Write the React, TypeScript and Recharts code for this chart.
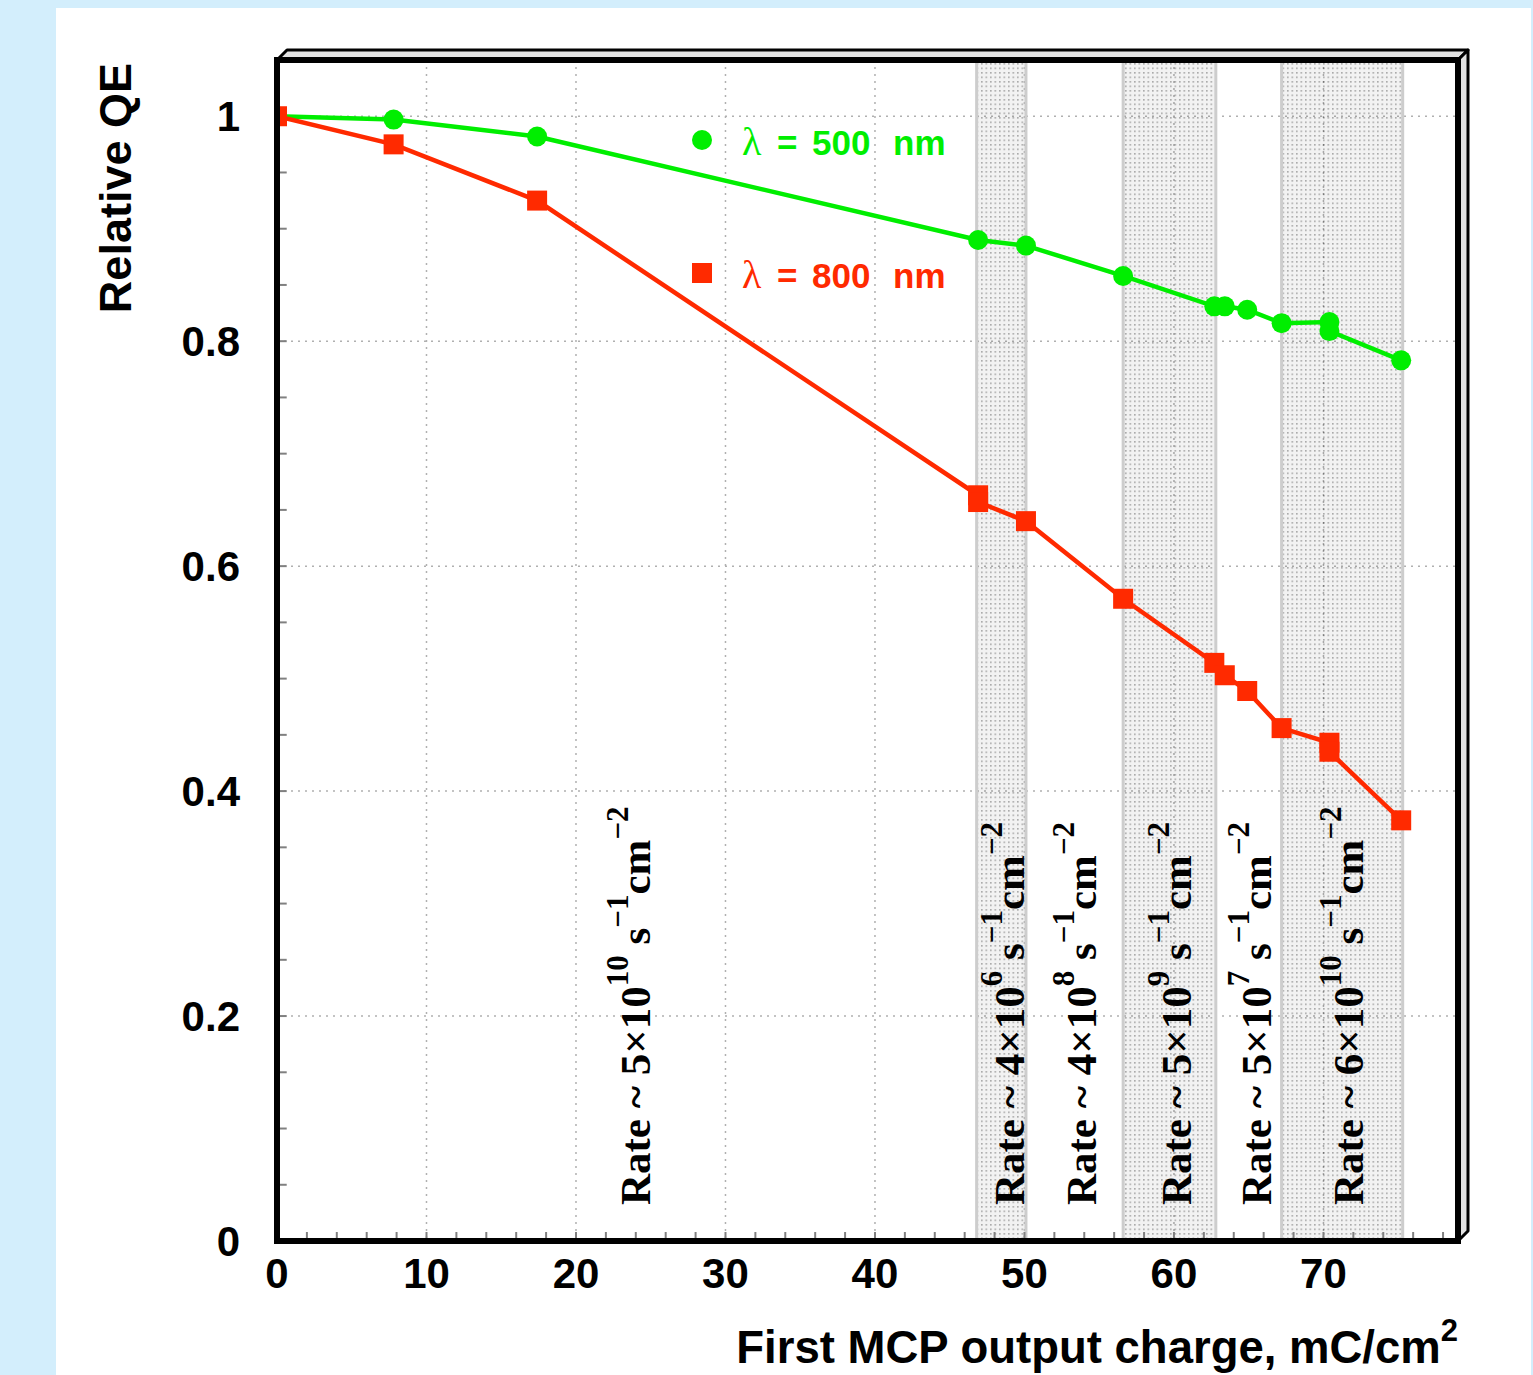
import React from 'react';
import {
  ComposedChart,
  Line,
  XAxis,
  YAxis,
  CartesianGrid,
  ReferenceArea,
  ReferenceLine,
  Legend,
} from 'recharts';

// ---- layout ----
const CHART_W = 1533;
const CHART_H = 1375;
const FRAME = { left: 277, top: 60, right: 1458, bottom: 1241, depth: 10 };

const GREEN = '#00ee00';
const RED = '#ff2a00';
const SANS = '"Liberation Sans", Arial, Helvetica, sans-serif';
const SERIF = '"Liberation Serif", "Times New Roman", serif';

// ---- axes ----
const xDomain = [0, 79];
const yDomain = [0, 1.05];
const xTicks = [0, 10, 20, 30, 40, 50, 60, 70];
const xMinorTicks = [
  2, 4, 6, 8, 10, 12, 14, 16, 18, 20, 22, 24, 26, 28, 30, 32, 34, 36, 38,
  40, 42, 44, 46, 48, 50, 52, 54, 56, 58, 60, 62, 64, 66, 68, 70, 72, 74, 76, 78,
];
const yTicks = [0, 0.2, 0.4, 0.6, 0.8, 1];
const yMinorTicks = [
  0.05, 0.1, 0.15, 0.2, 0.25, 0.3, 0.35, 0.4, 0.45, 0.5, 0.55, 0.6, 0.65,
  0.7, 0.75, 0.8, 0.85, 0.9, 0.95, 1, 1.05,
];
// inward tick length, in axis units
const X_TICK_LEN = 0.008; // along y
const Y_TICK_LEN = 0.65; // along x

// ---- measurements: relative QE vs. first-MCP output charge (mC/cm^2) ----
const qe500nm = [
  { charge: 0, qe: 1.0 },
  { charge: 7.8, qe: 0.997 },
  { charge: 17.4, qe: 0.982 },
  { charge: 46.9, qe: 0.89 },
  { charge: 50.1, qe: 0.885 },
  { charge: 56.6, qe: 0.858 },
  { charge: 62.7, qe: 0.831 },
  { charge: 63.4, qe: 0.831 },
  { charge: 64.9, qe: 0.828 },
  { charge: 67.2, qe: 0.816 },
  { charge: 70.4, qe: 0.817 },
  { charge: 70.4, qe: 0.809 },
  { charge: 75.2, qe: 0.783 },
];

const qe800nm = [
  { charge: 0, qe: 1.0 },
  { charge: 7.8, qe: 0.975 },
  { charge: 17.4, qe: 0.925 },
  { charge: 46.9, qe: 0.663 },
  { charge: 46.9, qe: 0.657 },
  { charge: 50.1, qe: 0.64 },
  { charge: 56.6, qe: 0.571 },
  { charge: 62.7, qe: 0.514 },
  { charge: 63.4, qe: 0.503 },
  { charge: 64.9, qe: 0.489 },
  { charge: 67.2, qe: 0.456 },
  { charge: 70.4, qe: 0.443 },
  { charge: 70.4, qe: 0.435 },
  { charge: 75.2, qe: 0.374 },
];

// illumination periods run at a different rate (shaded)
const rateBands = [
  { from: 46.8, to: 50.1 },
  { from: 56.6, to: 62.8 },
  { from: 67.2, to: 75.3 },
];

// rate annotations: position on the charge axis, mantissa and exponent
const rateLabels = [
  { charge: 24.95, mantissa: '5', exponent: '10' },
  { charge: 50.0, mantissa: '4', exponent: '6' },
  { charge: 54.8, mantissa: '4', exponent: '8' },
  { charge: 61.15, mantissa: '5', exponent: '9' },
  { charge: 66.5, mantissa: '5', exponent: '7' },
  { charge: 72.65, mantissa: '6', exponent: '10' },
];

const series = [
  { key: '500', name: 'λ = 500 nm', wavelength: '500', color: GREEN, marker: 'circle', data: qe500nm },
  { key: '800', name: 'λ = 800 nm', wavelength: '800', color: RED, marker: 'square', data: qe800nm },
];

const tickStyle = { fontSize: 42, fontWeight: 700, fill: '#000', fontFamily: SANS };

const SquareDot = (props: any) => {
  const { cx, cy, fill } = props;
  if (cx == null || cy == null) return null;
  return <rect x={cx - 10} y={cy - 10} width={20} height={20} fill={fill} />;
};

const CircleDot = (props: any) => {
  const { cx, cy, fill } = props;
  if (cx == null || cy == null) return null;
  return <circle cx={cx} cy={cy} r={10} fill={fill} />;
};

const RateLabel = ({ viewBox, item }: any) => {
  if (!viewBox) return null;
  const x = viewBox.x;
  const bottom = Math.max(viewBox.y, viewBox.y + viewBox.height) - 36;
  const sup = { fontSize: 31 };
  return (
    <text
      x={x}
      y={bottom}
      transform={`rotate(-90, ${x}, ${bottom})`}
      fontFamily={SERIF}
      fontWeight={700}
      fontSize={43}
      fill="#000"
    >
      <tspan>{`Rate ~ ${item.mantissa}×10`}</tspan>
      <tspan dy={-22} {...sup}>{item.exponent}</tspan>
      <tspan dy={22}>{' s'}</tspan>
      <tspan dy={-22} {...sup}>−1</tspan>
      <tspan dy={22}>cm</tspan>
      <tspan dy={-22} {...sup}>−2</tspan>
    </text>
  );
};

const LegendBox = () => (
  <svg width={300} height={200} style={{ overflow: 'visible' }}>
    {series.map((s, i) => {
      const cy = i === 0 ? 40 : 173;
      const base = cy + 15;
      return (
        <g key={s.key}>
          {s.marker === 'circle' ? (
            <circle cx={42} cy={cy} r={10} fill={s.color} />
          ) : (
            <rect x={32} y={cy - 10} width={20} height={20} fill={s.color} />
          )}
          <text x={82} y={base} fill={s.color} fontFamily={SERIF} fontSize={40}>
            λ
          </text>
          <text y={base} fill={s.color} fontFamily={SANS} fontWeight={700} fontSize={35}>
            <tspan x={117}>=</tspan>
            <tspan x={152}>{s.wavelength}</tspan>
            <tspan x={233}>nm</tspan>
          </text>
        </g>
      );
    })}
  </svg>
);

const YTitle = () => (
  <text
    x={131}
    y={FRAME.top + 3}
    transform={`rotate(-90, 131, ${FRAME.top + 3})`}
    textAnchor="end"
    fontFamily={SANS}
    fontWeight={700}
    fontSize={45}
    fill="#000"
  >
    Relative QE
  </text>
);

const XTitle = () => (
  <text
    x={FRAME.right}
    y={1363}
    textAnchor="end"
    fontFamily={SANS}
    fontWeight={700}
    fontSize={45.5}
    fill="#000"
  >
    <tspan>First MCP output charge, mC/cm</tspan>
    <tspan dy={-22} fontSize={31}>2</tspan>
  </text>
);

const Frame3D = () => {
  const { left: L, top: T, right: R, bottom: B, depth: D } = FRAME;
  return (
    <svg
      width={CHART_W}
      height={CHART_H}
      style={{ position: 'absolute', left: 0, top: 0, pointerEvents: 'none' }}
    >
      <polygon
        points={`${L},${T} ${L + D},${T - D} ${R + D},${T - D} ${R},${T}`}
        fill="#e2e2e2"
        stroke="#000"
        strokeWidth={3}
        strokeLinejoin="round"
      />
      <polygon
        points={`${R},${T} ${R + D},${T - D} ${R + D},${B - D} ${R},${B}`}
        fill="#e2e2e2"
        stroke="#000"
        strokeWidth={3}
        strokeLinejoin="round"
      />
      <rect x={L} y={T} width={R - L} height={B - T} fill="none" stroke="#000" strokeWidth={6} />
    </svg>
  );
};

export default function App() {
  return (
    <div
      style={{
        position: 'absolute',
        left: 0,
        top: 0,
        width: CHART_W,
        height: CHART_H,
        background: '#d3eefc',
        overflow: 'hidden',
      }}
    >
      <div style={{ position: 'absolute', left: 56, top: 8, right: 2, bottom: 0, background: '#fff' }} />
      <div style={{ position: 'absolute', left: 0, top: 0 }}>
        <ComposedChart
          width={CHART_W}
          height={CHART_H}
          margin={{ top: FRAME.top, right: CHART_W - FRAME.right, bottom: 0, left: 0 }}
        >
          <defs>
            <pattern id="rateBandDots" width={4.5} height={4.5} patternUnits="userSpaceOnUse">
              <rect width={4.5} height={4.5} fill="rgba(0,0,0,0.05)" />
              <rect width={1.6} height={1.6} fill="rgba(0,0,0,0.3)" />
            </pattern>
          </defs>

          <XAxis
            type="number"
            dataKey="charge"
            domain={xDomain}
            ticks={xTicks}
            interval={0}
            height={CHART_H - FRAME.bottom}
            tick={tickStyle}
            tickSize={0}
            tickMargin={17}
            axisLine={false}
            tickLine={false}
            allowDataOverflow
            label={() => <XTitle />}
          />
          <YAxis
            type="number"
            domain={yDomain}
            ticks={yTicks}
            interval={0}
            width={FRAME.left}
            tick={tickStyle}
            tickSize={0}
            tickMargin={37}
            axisLine={false}
            tickLine={false}
            allowDataOverflow
            tickFormatter={(v: number) => String(Number(v.toFixed(2)))}
            label={() => <YTitle />}
          />

          <CartesianGrid stroke="#b0b0b0" strokeWidth={1.5} strokeDasharray="2 5" />

          {rateBands.map((b, i) => (
            <ReferenceArea
              key={`band-${i}`}
              x1={b.from}
              x2={b.to}
              fill="url(#rateBandDots)"
              fillOpacity={1}
              stroke="#cdcdcd"
              strokeWidth={3}
            />
          ))}

          {/* inward minor ticks along the bottom and left edges */}
          {xMinorTicks.map((t) => (
            <ReferenceLine
              key={`xt-${t}`}
              segment={[
                { x: t, y: 0 },
                { x: t, y: X_TICK_LEN },
              ]}
              stroke="#808080"
              strokeWidth={2}
            />
          ))}
          {yMinorTicks.map((t) => (
            <ReferenceLine
              key={`yt-${t}`}
              segment={[
                { x: 0, y: t },
                { x: Y_TICK_LEN, y: t },
              ]}
              stroke="#808080"
              strokeWidth={2}
            />
          ))}

          {rateLabels.map((r, i) => (
            <ReferenceLine
              key={`rate-${i}`}
              x={r.charge}
              stroke="none"
              label={(p: any) => <RateLabel viewBox={p.viewBox} item={r} />}
            />
          ))}

          {series.map((s) => (
            <Line
              key={s.key}
              name={s.name}
              data={s.data}
              dataKey="qe"
              type="linear"
              stroke={s.color}
              strokeWidth={4.5}
              dot={s.marker === 'circle' ? <CircleDot fill={s.color} /> : <SquareDot fill={s.color} />}
              activeDot={false}
              isAnimationActive={false}
            />
          ))}

          <Legend
            layout="vertical"
            align="center"
            verticalAlign="middle"
            wrapperStyle={{ left: 660, top: 100, width: 300, height: 200 }}
            content={() => <LegendBox />}
          />
        </ComposedChart>
      </div>
      <Frame3D />
    </div>
  );
}
